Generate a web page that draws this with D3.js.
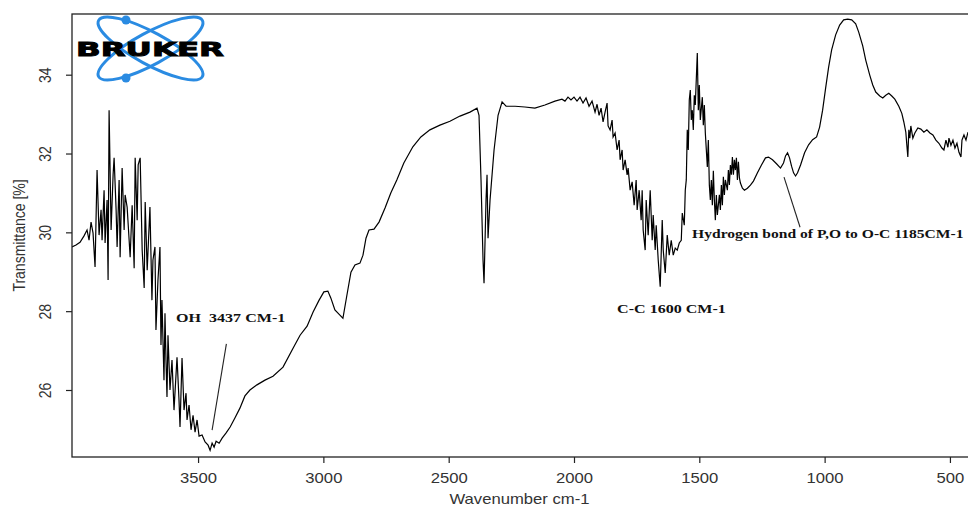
<!DOCTYPE html>
<html>
<head>
<meta charset="utf-8">
<script src="https://cdn.jsdelivr.net/npm/d3@7"></script>
<style>
  html, body { margin: 0; padding: 0; background: #fff; }
  svg { display: block; }
</style>
</head>
<body>
<svg id="chart" width="968" height="507"></svg>
<script>
// ---------------- DATA ----------------
const wavenumber = [
  4003,3987,3971,3955,3943,3935,3927,3919,3911,3903,
  3895,3887,3883,3875,3871,3863,3859,3855,3847,3839,
  3835,3827,3823,3815,3811,3803,3795,3791,3783,3775,
  3771,3763,3755,3751,3743,3739,3731,3723,3715,3711,
  3703,3692,3684,3680,3672,3668,3660,3652,3648,3644,
  3636,3632,3628,3624,3620,3612,3604,3596,3584,3576,
  3572,3564,3556,3548,3544,3536,3528,3520,3512,3504,
  3496,3484,3472,3460,3452,3444,3436,3428,3416,3404,
  3388,3372,3353,3333,3313,3293,3265,3233,3201,3161,
  3121,3093,3065,3041,3017,2998,2982,2970,2954,2934,
  2922,2906,2890,2874,2854,2842,2830,2818,2798,2778,
  2754,2731,2707,2679,2643,2611,2575,2535,2495,2455,
  2415,2387,2379,2371,2363,2359,2351,2347,2343,2335,
  2319,2303,2287,2271,2235,2196,2156,2116,2076,2048,
  2036,2024,2012,2000,1988,1976,1964,1952,1940,1928,
  1916,1908,1900,1892,1884,1876,1868,1864,1856,1848,
  1844,1836,1828,1820,1816,1808,1804,1796,1788,1784,
  1776,1768,1760,1752,1748,1740,1732,1728,1724,1716,
  1712,1704,1696,1688,1684,1676,1672,1664,1656,1648,
  1644,1636,1628,1620,1612,1604,1596,1588,1580,1572,
  1568,1560,1556,1552,1548,1544,1540,1536,1532,1528,
  1524,1520,1516,1508,1504,1500,1496,1488,1484,1480,
  1476,1472,1468,1464,1460,1456,1452,1448,1444,1440,
  1436,1432,1428,1420,1416,1412,1408,1404,1400,1396,
  1388,1384,1380,1376,1372,1368,1364,1360,1356,1352,
  1348,1344,1340,1336,1328,1320,1308,1296,1284,1268,
  1252,1236,1224,1208,1192,1176,1164,1156,1148,1140,
  1132,1124,1116,1108,1096,1080,1064,1048,1032,1020,
  1008,996,984,972,956,940,924,908,892,876,
  864,848,836,820,808,796,780,768,756,744,
  732,720,704,692,684,676,672,668,664,660,
  656,648,640,628,616,604,592,580,568,556,
  544,532,524,516,508,504,496,488,480,472,
  464,456,452,444,436,428
];
const transmittance = [
  29.63,29.68,29.75,29.91,30.06,29.80,30.26,29.98,29.12,31.58,
  29.93,30.57,29.80,31.07,29.73,30.82,28.79,33.10,30.06,31.46,
  31.89,30.57,29.63,31.33,29.37,31.63,30.06,30.95,30.64,29.80,
  29.37,30.69,29.09,31.89,30.31,31.71,31.89,29.55,28.59,30.77,
  29.04,30.64,28.28,29.30,29.63,27.52,28.79,29.63,27.14,28.28,
  26.25,27.95,26.76,25.82,27.39,26.00,26.76,25.49,26.83,25.74,
  25.06,26.81,25.49,25.92,25.24,25.62,24.99,25.36,24.93,25.24,
  24.83,24.86,24.68,24.60,24.47,24.65,24.55,24.70,24.65,24.78,
  24.91,25.06,25.29,25.54,25.85,26.00,26.13,26.25,26.35,26.58,
  27.06,27.39,27.62,27.98,28.28,28.49,28.51,28.33,28.03,27.90,
  27.82,28.41,28.99,29.17,29.22,29.42,29.85,30.06,30.08,30.26,
  30.62,31.00,31.33,31.76,32.17,32.42,32.60,32.72,32.82,32.95,
  33.05,33.15,32.97,31.33,29.30,28.71,30.82,31.46,29.85,30.82,
  32.09,32.97,33.31,33.20,33.20,33.18,33.15,33.23,33.33,33.38,
  33.33,33.43,33.36,33.43,33.33,33.43,33.28,33.41,33.20,33.33,
  33.05,33.25,32.97,33.15,32.80,33.05,33.28,32.70,32.60,32.85,
  32.42,32.52,32.09,32.34,31.84,32.09,31.58,31.84,31.46,31.63,
  31.07,31.28,30.69,31.33,30.57,31.07,30.31,31.07,30.06,29.55,
  30.82,29.93,31.07,29.80,30.44,29.55,30.18,29.30,28.62,30.31,
  29.55,28.97,29.93,29.42,29.80,29.42,29.60,29.55,29.73,29.80,
  30.49,30.18,31.07,31.33,32.60,32.09,33.36,33.61,32.85,33.10,
  32.60,33.48,33.23,34.55,33.10,33.74,32.85,33.43,32.72,33.23,
  32.52,32.09,31.66,32.34,31.20,30.82,31.33,30.69,31.56,30.82,
  30.31,30.95,30.44,30.95,30.57,31.20,30.69,31.41,30.95,31.33,
  31.07,31.58,31.20,31.71,31.46,31.91,31.46,31.84,31.58,31.89,
  31.33,31.79,31.38,31.25,31.12,31.07,31.12,31.20,31.30,31.51,
  31.71,31.89,31.91,31.84,31.74,31.63,31.76,31.94,32.02,31.89,
  31.68,31.51,31.43,31.51,31.71,32.02,32.22,32.35,32.42,32.67,
  33.10,33.66,34.19,34.63,35.01,35.26,35.39,35.41,35.39,35.29,
  35.08,34.73,34.37,33.99,33.74,33.56,33.46,33.41,33.48,33.53,
  33.46,33.38,33.20,33.02,32.80,32.54,32.22,31.91,32.60,32.39,
  32.70,32.39,32.52,32.65,32.62,32.54,32.60,32.52,32.47,32.34,
  32.26,32.14,32.09,32.34,32.16,32.39,32.21,32.34,32.14,32.26,
  32.03,31.91,32.34,32.47,32.34,32.54
];
const xTicks = [3500, 3000, 2500, 2000, 1500, 1000, 500];
const yTicks = [26, 28, 30, 32, 34];
const xTitle = "Wavenumber cm-1";
const yTitle = "Transmittance [%]";
// annotation labels: text, anchor wavenumber, anchor transmittance
const annLabels = ["OH  3437 CM-1", "C-C 1600 CM-1", "Hydrogen bond of P,O to O-C 1185CM-1"];
const annLabelW = [3588, 1828, 1529];
const annLabelT = [27.72, 27.95, 29.86];
// leader lines: [w1, T1, w2, T2]
const leaderW1 = [3444, 1162];
const leaderT1 = [24.98, 31.40];
const leaderW2 = [3387, 1098];
const leaderT2 = [27.17, 30.13];

// ---------------- CHART ----------------
const svg = d3.select("#chart");
const L = 72, R = 975, T = 14, B = 457;
const SX = 1.19; // horizontal stretch of text in reference

const x = d3.scaleLinear().domain([4003, 400]).range([L, R]);
const y = d3.scaleLinear().domain([24.3, 35.54]).range([B, T]);

svg.append("defs").append("clipPath").attr("id", "clip")
  .append("rect").attr("x", L).attr("y", T).attr("width", R - L).attr("height", B - T);

// Bruker logo (decoration)
const logo = svg.append("g");
const lc = [150.5, 48.5];
const blue = "#2a8be2";
[28.5, -28.5].forEach(a => {
  logo.append("ellipse").attr("cx", 0).attr("cy", 0).attr("rx", 59).attr("ry", 16)
    .attr("transform", `translate(${lc[0]},${lc[1]}) rotate(${a})`)
    .attr("fill", "none").attr("stroke", blue).attr("stroke-width", 3);
});
[[126, 20], [126, 78]].forEach(p => {
  logo.append("circle").attr("cx", p[0]).attr("cy", p[1]).attr("r", 4.5).attr("fill", blue);
});
logo.append("text").attr("x", 76).attr("y", 56)
  .attr("font-family", "DejaVu Sans").attr("font-weight", "bold").attr("font-size", 19)
  .attr("textLength", 148).attr("lengthAdjust", "spacingAndGlyphs")
  .attr("fill", "#000").attr("stroke", "#000").attr("stroke-width", 0.9)
  .text("BRUKER");

// spectrum
const pts = wavenumber.map((w, i) => [w, transmittance[i]]);
const line = d3.line().x(d => x(d[0])).y(d => y(d[1]));
svg.append("path").datum(pts)
  .attr("clip-path", "url(#clip)")
  .attr("d", line)
  .attr("fill", "none").attr("stroke", "#000").attr("stroke-width", 1.2)
  .attr("stroke-linejoin", "miter");

// frame
svg.append("rect").attr("x", L).attr("y", T).attr("width", R - L).attr("height", B - T)
  .attr("fill", "none").attr("stroke", "#222").attr("stroke-width", 1.3);

// x axis
const xAxis = svg.append("g").attr("transform", `translate(0,${B})`)
  .call(d3.axisBottom(x).tickValues(xTicks).tickSize(6).tickFormat(d3.format("d")));
xAxis.select(".domain").remove();
xAxis.selectAll(".tick line").attr("stroke", "#222").attr("stroke-width", 1.2);
xAxis.selectAll(".tick text").remove();
xAxis.selectAll(".tick").append("text")
  .attr("transform", `translate(0,26) scale(${SX},1)`)
  .attr("text-anchor", "middle")
  .attr("font-family", "Liberation Sans, Arial, sans-serif").attr("font-size", 14)
  .attr("fill", "#333").text(d => d);

// y axis
const yAxis = svg.append("g").attr("transform", `translate(${L},0)`)
  .call(d3.axisLeft(y).tickValues(yTicks).tickSize(6));
yAxis.select(".domain").remove();
yAxis.selectAll(".tick line").attr("stroke", "#222").attr("stroke-width", 1.2);
yAxis.selectAll(".tick text").remove();
yAxis.selectAll(".tick").append("text")
  .attr("transform", `translate(-21,0) scale(${SX},1) rotate(-90)`)
  .attr("text-anchor", "middle")
  .attr("font-family", "Liberation Sans, Arial, sans-serif").attr("font-size", 14)
  .attr("fill", "#333").text(d => d);

// axis titles
svg.append("text")
  .attr("transform", `translate(${(L + 968) / 2 - 0.5},504) scale(${SX},1)`)
  .attr("text-anchor", "middle")
  .attr("font-family", "Liberation Sans, Arial, sans-serif").attr("font-size", 14)
  .attr("fill", "#333").text(xTitle);
svg.append("text")
  .attr("transform", `translate(25,${(T + B) / 2}) scale(${SX},1) rotate(-90)`)
  .attr("text-anchor", "middle")
  .attr("font-family", "Liberation Sans, Arial, sans-serif").attr("font-size", 14)
  .attr("fill", "#333").text(yTitle);

// annotations (the long one is kept just inside the right edge)
annLabels.forEach((t, i) => {
  const sx = i === 2 ? 1.155 : SX;
  svg.append("text")
    .attr("transform", `translate(${x(annLabelW[i])},${y(annLabelT[i])}) scale(${sx},1)`)
    .attr("font-family", "Liberation Serif, Times New Roman, serif")
    .attr("font-weight", "bold").attr("font-size", 13.5)
    .attr("fill", "#111").attr("xml:space", "preserve").style("white-space", "pre")
    .text(t);
});
leaderW1.forEach((w, i) => {
  svg.append("line")
    .attr("x1", x(w)).attr("y1", y(leaderT1[i]))
    .attr("x2", x(leaderW2[i])).attr("y2", y(leaderT2[i]))
    .attr("stroke", "#222").attr("stroke-width", 1.1);
});
</script>
</body>
</html>
